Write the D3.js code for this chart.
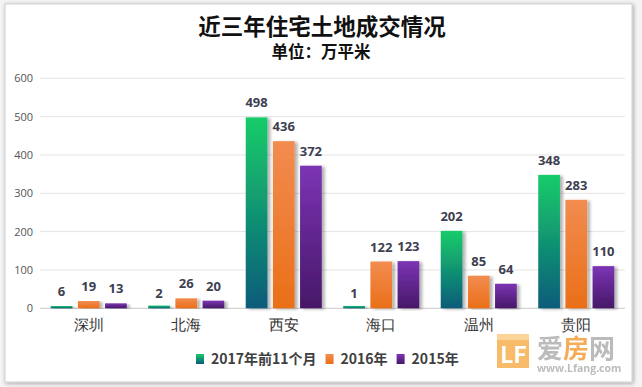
<!DOCTYPE html>
<html><head><meta charset="utf-8">
<script src="https://cdn.jsdelivr.net/npm/d3@7"></script>
<style>
html,body{margin:0;padding:0;background:#fff;}
svg{display:block;font-family:"Noto Sans CJK SC","Noto Sans",sans-serif;}
</style></head>
<body>
<svg id="c" width="642" height="387"></svg>
<script>
const categories = ["深圳","北海","西安","海口","温州","贵阳"];
const seriesNames = ["2017年前11个月","2016年","2015年"];
const s2017 = [6, 2, 498, 1, 202, 348];
const s2016 = [19, 26, 436, 122, 85, 283];
const s2015 = [13, 20, 372, 123, 64, 110];
const yTicks = [0,100,200,300,400,500,600];

(function(){
const svg = d3.select("#c");
const W = 642, H = 387;
const defs = svg.append("defs");

// frame shadow
const fs = defs.append("filter").attr("id","fs").attr("x","-5%").attr("y","-5%").attr("width","110%").attr("height","110%");
fs.append("feGaussianBlur").attr("in","SourceAlpha").attr("stdDeviation",2);
fs.append("feOffset").attr("dx",1).attr("dy",1).attr("result","o");
fs.append("feComponentTransfer").append("feFuncA").attr("type","linear").attr("slope",0.35);
const fm = fs.append("feMerge"); fm.append("feMergeNode"); fm.append("feMergeNode").attr("in","SourceGraphic");

svg.append("rect").attr("x",0).attr("y",0).attr("width",W).attr("height",H).attr("fill","#f4f4f4");
svg.append("rect").attr("x",5).attr("y",4).attr("width",627).attr("height",378)
  .attr("fill","#fff").attr("stroke","#d0d0d0").attr("filter","url(#fs)");

// bar shadow
const bs = defs.append("filter").attr("id","bs").attr("x","-20%").attr("y","-5%").attr("width","160%").attr("height","110%");
bs.append("feGaussianBlur").attr("in","SourceAlpha").attr("stdDeviation",1.5);
bs.append("feOffset").attr("dx",3).attr("dy",1).attr("result","o");
bs.append("feComponentTransfer").append("feFuncA").attr("type","linear").attr("slope",0.3);
const bm = bs.append("feMerge"); bm.append("feMergeNode"); bm.append("feMergeNode").attr("in","SourceGraphic");

const grads = [["#18cc6a","#0a5b7a"],["#f28c50","#ea6f18"],["#7c34b4","#461868"]];
grads.forEach((g,i)=>{
  const lg = defs.append("linearGradient").attr("id","g"+i).attr("x1",0).attr("y1",0).attr("x2",0).attr("y2",1);
  lg.append("stop").attr("offset","0%").attr("stop-color",g[0]);
  lg.append("stop").attr("offset","100%").attr("stop-color",g[1]);
});

const pLeft = 40, pRight = 625, pTop = 78.3, pBottom = 308.3;
const x0 = d3.scaleBand().domain(categories).range([pLeft,pRight]).paddingInner(0.22).paddingOuter(0.11);
const x1 = d3.scaleBand().domain(seriesNames).range([0,x0.bandwidth()]).paddingInner(0.2);
const y = d3.scaleLinear().domain([0,600]).range([pBottom,pTop]);

// grid
svg.append("g").selectAll("line").data(yTicks).join("line")
  .attr("x1",pLeft).attr("x2",pRight).attr("y1",d=>y(d)).attr("y2",d=>y(d))
  .attr("stroke",d=>d===0?"#c8c8c8":"#e4e4e4").attr("stroke-width",1);

// y axis labels
const ya = svg.append("g").attr("transform",`translate(${pLeft-7},0)`)
  .call(d3.axisLeft(y).tickValues(yTicks).tickSize(0).tickPadding(0));
ya.select(".domain").remove();
ya.selectAll("text").attr("font-size",11).attr("fill","#555").attr("font-family","'Open Sans','Noto Sans',sans-serif");

// x axis labels
const xa = svg.append("g").attr("transform",`translate(0,${pBottom})`)
  .call(d3.axisBottom(x0).tickSize(0).tickPadding(11));
xa.select(".domain").remove();
xa.selectAll("text").attr("font-size",15).attr("fill","#333");

const series = [s2017,s2016,s2015];
const gBars = svg.append("g");
series.forEach((vals,si)=>{
  const gs = gBars.append("g");
  gs.selectAll("rect").data(vals).join("rect")
    .attr("x",(d,i)=>x0(categories[i])+x1(seriesNames[si]))
    .attr("y",d=>y(d)-(d<3?2:0))
    .attr("width",x1.bandwidth())
    .attr("height",d=>pBottom-y(d)+(d<3?2:0))
    .attr("fill","url(#g"+si+")")
    .attr("filter","url(#bs)");
  gs.selectAll("text").data(vals).join("text")
    .attr("x",(d,i)=>x0(categories[i])+x1(seriesNames[si])+x1.bandwidth()/2)
    .attr("y",d=>y(d)-10)
    .attr("text-anchor","middle")
    .attr("font-size",13).attr("font-weight","bold").attr("fill","#3c4050")
    .attr("font-family","'Open Sans','Noto Sans',sans-serif")
    .text(d=>d);
});

// titles
svg.append("text").attr("x",322).attr("y",34.5).attr("text-anchor","middle")
  .attr("font-size",22.5).attr("font-weight","bold").attr("fill","#111").text("近三年住宅土地成交情况");
svg.append("text").attr("x",321).attr("y",57.5).attr("text-anchor","middle")
  .attr("font-size",16.5).attr("font-weight","bold").attr("fill","#111").text("单位：万平米");

// legend
const leg = svg.append("g");
let lx = 196;
seriesNames.forEach((n,i)=>{
  const g = leg.append("g").attr("transform",`translate(${lx},364)`);
  g.append("rect").attr("x",0).attr("y",-10).attr("width",8).attr("height",10).attr("fill","url(#g"+i+")");
  const t = g.append("text").attr("x",15).attr("y",0).attr("font-size",14).attr("font-weight","bold")
    .attr("fill","#404040").text(n);
  lx += 15 + t.node().getComputedTextLength() + 9;
});

// watermark
const wm = svg.append("g").attr("opacity",0.9);
wm.append("rect").attr("x",497).attr("y",334).attr("width",32).attr("height",34).attr("fill","#f7b45a");
wm.append("rect").attr("x",497).attr("y",334).attr("width",32).attr("height",6).attr("fill","#fbd090");
wm.append("text").attr("x",500).attr("y",363).attr("font-size",23).attr("font-weight","bold").attr("fill","#fff").text("LF");
const wt = wm.append("text").attr("x",537).attr("y",358).attr("font-size",26).attr("font-weight","bold");
wt.append("tspan").attr("fill","#b4b4b4").text("爱");
wt.append("tspan").attr("fill","#f5a448").text("房");
wt.append("tspan").attr("fill","#b4b4b4").text("网");
wm.append("text").attr("x",537).attr("y",372).attr("font-size",10.5).attr("font-weight","bold").attr("fill","#b4b4b4").attr("font-family","'Open Sans',sans-serif").text("www.Lfang.com");
})();
</script>
</body></html>
